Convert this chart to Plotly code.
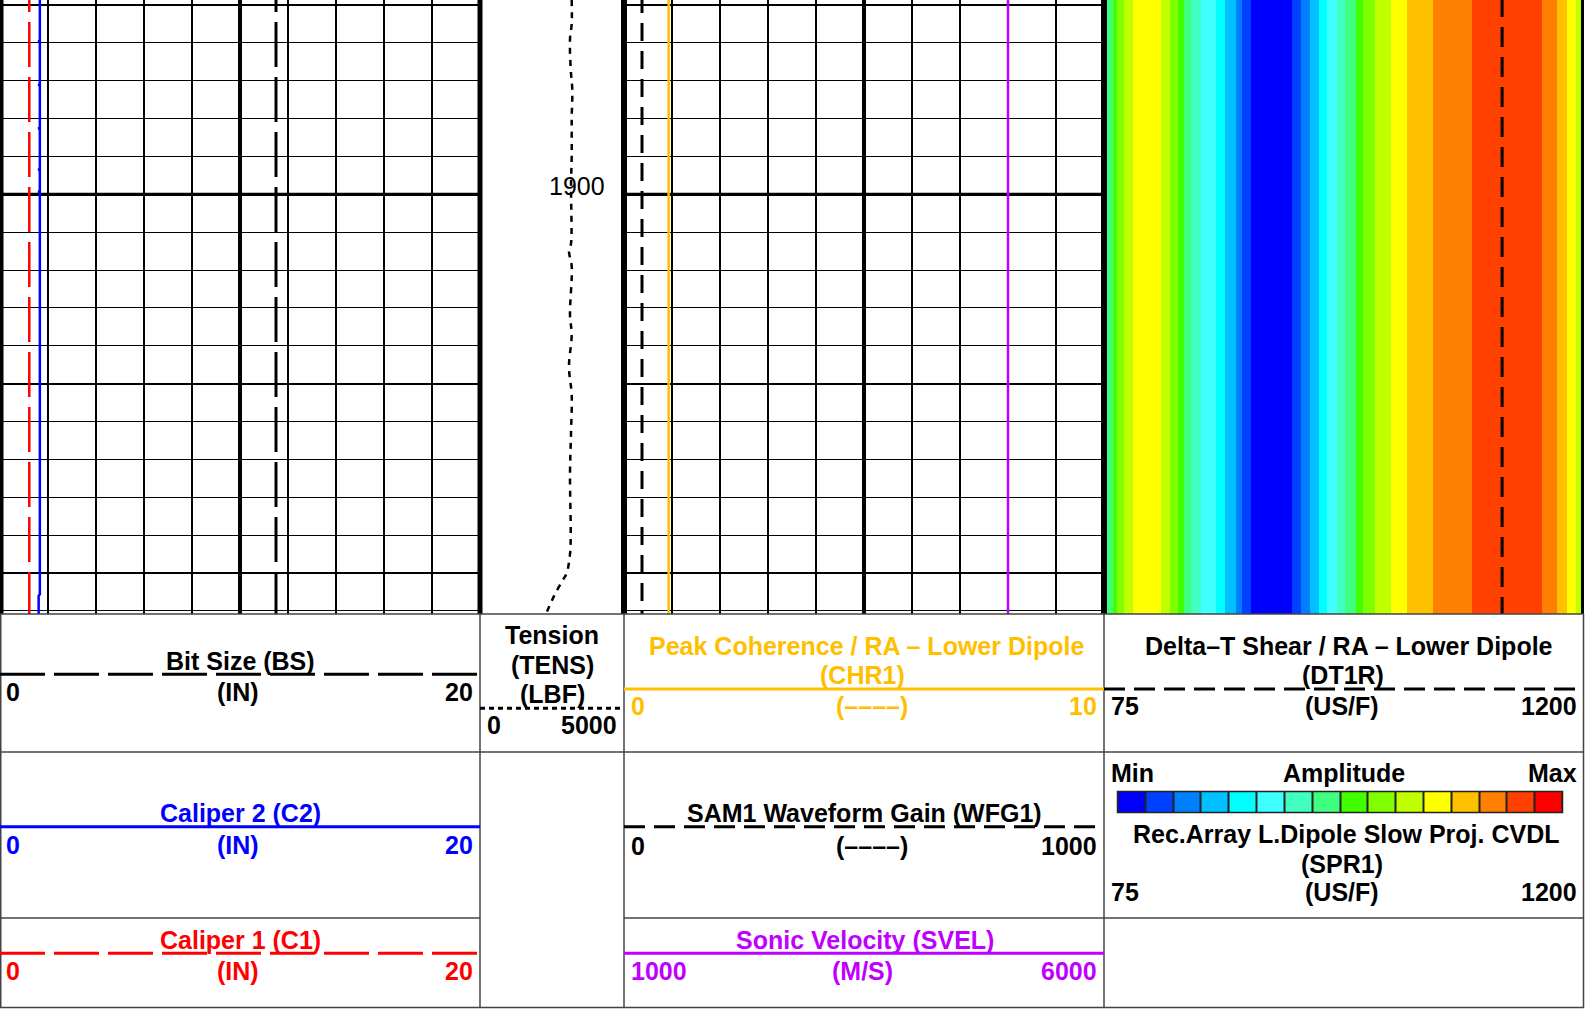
import plotly.graph_objects as go

W, H = 1596, 1009

# ---------------- depth window ----------------
DEPTH_TOP = 1894.87
DEPTH_BOTTOM = 1911.08

# ---------------- track 1 curves (IN, 0-20) ----------------
bs_depth = [1894.0, 1912.0]
bs_value = [11.5, 11.5]

c1_depth = [1894.0, 1912.0]
c1_value = [1.22, 1.22]

c2_depth = [1894.0, 1895.94, 1895.96, 1895.98, 1897.09, 1897.11, 1897.13,
            1898.24, 1898.26, 1898.28, 1899.33, 1899.35, 1899.37,
            1899.91, 1899.93, 1899.95, 1910.56, 1910.60, 1912.0]
c2_value = [1.66, 1.66, 1.60, 1.66, 1.66, 1.60, 1.66,
            1.66, 1.60, 1.66, 1.66, 1.60, 1.66,
            1.66, 1.60, 1.66, 1.66, 1.61, 1.61]

# ---------------- depth track: tension (LBF, 0-5000) ----------------
tens_depth = [1894.87, 1895.5, 1895.9, 1896.7, 1897.25, 1898.0, 1899.0, 1899.75,
              1901.3, 1901.5, 1901.9, 1903.2, 1903.7, 1904.55, 1905.3, 1906.3,
              1907.4, 1909.0, 1909.5, 1910.0, 1910.2, 1910.5, 1910.75, 1911.08]
tens_value = [3184, 3184, 3125, 3150, 3205, 3184, 3184, 3160,
              3160, 3090, 3184, 3125, 3184, 3090, 3184, 3160,
              3125, 3150, 3125, 3010, 2865, 2640, 2480, 2290]

# ---------------- track 3 curves ----------------
chr1_depth = [1894.0, 1912.0]
chr1_value = [0.93, 0.93]          # 0-10

wfg1_depth = [1894.0, 1912.0]
wfg1_value = [37.5, 37.5]          # 0-1000

svel_depth = [1894.0, 1912.0]
svel_value = [5000, 5000]          # 1000-6000 M/S

# ---------------- track 4: DT1R and SPR1 projection ----------------
dt1r_depth = [1894.0, 1912.0]
dt1r_value = [1010, 1010]          # 75-1200 US/F

spr1_edges = [75, 96, 106, 122, 143, 208, 229, 249, 263, 280, 303.5, 339, 360,
              384, 400, 419.5, 517, 538, 559.5, 580, 599.5, 621.5, 641, 666, 684,
              711.5, 749, 786, 847, 939, 1104, 1140, 1162, 1183.5, 1200]
spr1_amp = [7, 8, 9, 10, 11, 10, 9, 8, 7, 6, 5, 4, 3, 2, 1, 0, 1, 2, 3, 4, 5, 6,
            7, 8, 9, 10, 11, 12, 13, 14, 13, 12, 11, 10]

amp_levels = list(range(16))
amp_colors = ["#0000FF", "#0040FF", "#0080FF", "#00C0FF", "#00FFFF", "#40FFFF",
              "#40FFC0", "#40FF80", "#40FF00", "#80FF00", "#C0FF00", "#FFFF00",
              "#FFC000", "#FF8000", "#FF4000", "#FF0000"]

ORANGE = "#FFBF00"
PURPLE = "#BF00FF"
FONT = "Liberation Sans, Arial, Helvetica, sans-serif"


def px(x):
    return x / W


def py(y):
    return 1 - y / H


# stepped colour scale for the 16 amplitude classes
n = len(amp_colors)
amp_scale = []
for i, c in enumerate(amp_colors):
    amp_scale.append([i / n, c])
    amp_scale.append([(i + 1) / n, c])

fig = go.Figure()

# track 1
fig.add_trace(go.Scatter(x=bs_value, y=bs_depth, mode="lines", xaxis="x", yaxis="y",
                         line=dict(color="black", width=3, dash="45px,10px"), hoverinfo="skip"))
fig.add_trace(go.Scatter(x=c1_value, y=c1_depth, mode="lines", xaxis="x", yaxis="y",
                         line=dict(color="#FF0000", width=2.5, dash="45px,10px"), hoverinfo="skip"))
fig.add_trace(go.Scatter(x=c2_value, y=c2_depth, mode="lines", xaxis="x", yaxis="y",
                         line=dict(color="#0000FF", width=2.5), hoverinfo="skip"))

# depth track
fig.add_trace(go.Scatter(x=tens_value, y=tens_depth, mode="lines", xaxis="x2", yaxis="y2",
                         line=dict(color="black", width=2.5, dash="6px,6px", shape="spline"),
                         hoverinfo="skip"))

# track 3
fig.add_trace(go.Scatter(x=wfg1_value, y=wfg1_depth, mode="lines", xaxis="x5", yaxis="y3",
                         line=dict(color="black", width=3, dash="18px,10px"), hoverinfo="skip"))
fig.add_trace(go.Scatter(x=chr1_value, y=chr1_depth, mode="lines", xaxis="x3", yaxis="y3",
                         line=dict(color=ORANGE, width=2.5), hoverinfo="skip"))
fig.add_trace(go.Scatter(x=svel_value, y=svel_depth, mode="lines", xaxis="x6", yaxis="y3",
                         line=dict(color=PURPLE, width=2.5), hoverinfo="skip"))

# track 4
fig.add_trace(go.Heatmap(x=spr1_edges, y=[DEPTH_TOP - 1, DEPTH_BOTTOM + 1], z=[spr1_amp],
                         xaxis="x4", yaxis="y4", colorscale=amp_scale, zmin=-0.5, zmax=15.5,
                         showscale=False, hoverinfo="skip"))
fig.add_trace(go.Scatter(x=dt1r_value, y=dt1r_depth, mode="lines", xaxis="x4", yaxis="y4",
                         line=dict(color="black", width=3, dash="20px,10px"), hoverinfo="skip"))

# amplitude key in the header
fig.add_trace(go.Heatmap(x=amp_levels, y=[0], z=[amp_levels], xaxis="x7", yaxis="y7",
                         colorscale=amp_scale, zmin=-0.5, zmax=15.5, xgap=2,
                         showscale=False, hoverinfo="skip"))

ydom = [py(614), 1]
hidden = dict(showticklabels=False, ticks="", zeroline=False, showline=False)

depth_grid = dict(range=[DEPTH_BOTTOM, DEPTH_TOP], tick0=1895, dtick=5, showgrid=True,
                  gridcolor="black", gridwidth=2,
                  minor=dict(tick0=1895, dtick=1, showgrid=True, gridcolor="black", gridwidth=1.3),
                  **hidden)
depth_plain = dict(range=[DEPTH_BOTTOM, DEPTH_TOP], showgrid=False, **hidden)

fig.update_layout(
    width=W, height=H, margin=dict(l=0, r=0, t=0, b=0),
    paper_bgcolor="white", plot_bgcolor="white", showlegend=False,
    font=dict(family=FONT),
    xaxis=dict(domain=[0, px(480)], range=[0, 20], tick0=0, dtick=2, showgrid=True,
               gridcolor="black", gridwidth=2, anchor="y", **hidden),
    yaxis=dict(domain=ydom, anchor="x", **depth_grid),
    xaxis2=dict(domain=[px(480), px(624)], range=[0, 5000], showgrid=False, anchor="y2", **hidden),
    yaxis2=dict(domain=ydom, anchor="x2", **depth_plain),
    xaxis3=dict(domain=[px(624), px(1104)], range=[0, 10], tick0=0, dtick=1, showgrid=True,
                gridcolor="black", gridwidth=2, anchor="y3", **hidden),
    yaxis3=dict(domain=ydom, anchor="x3", **depth_grid),
    xaxis5=dict(domain=[px(624), px(1104)], range=[0, 1000], overlaying="x3", anchor="y3",
                showgrid=False, **hidden),
    xaxis6=dict(domain=[px(624), px(1104)], range=[1000, 6000], overlaying="x3", anchor="y3",
                showgrid=False, **hidden),
    xaxis4=dict(domain=[px(1104), px(1583)], range=[75, 1200], showgrid=False, anchor="y4", **hidden),
    yaxis4=dict(domain=ydom, anchor="x4", **depth_plain),
    xaxis7=dict(domain=[px(1117.5), px(1562.5)], range=[-0.5, 15.5], showgrid=False, anchor="y7",
                **hidden),
    yaxis7=dict(domain=[py(812.5), py(791.5)], range=[-0.5, 0.5], showgrid=False, anchor="x7",
                **hidden),
)

shapes = []


def pline(x0, y0, x1, y1, color="black", width=1.5, dash="solid"):
    shapes.append(dict(type="line", xref="paper", yref="paper",
                       x0=px(x0), y0=py(y0), x1=px(x1), y1=py(y1), layer="above",
                       line=dict(color=color, width=width, dash=dash)))


# heavier depth lines every ten units
for xr, yr in (("x", "y"), ("x3", "y3")):
    xmax = 20 if xr == "x" else 10
    shapes.append(dict(type="line", xref=xr, yref=yr, x0=0, x1=xmax, y0=1900, y1=1900,
                       layer="below", line=dict(color="black", width=3.2)))

# track centre lines
shapes.append(dict(type="line", xref="x", yref="y", x0=10, x1=10, y0=DEPTH_TOP, y1=DEPTH_BOTTOM,
                   layer="below", line=dict(color="black", width=4)))
shapes.append(dict(type="line", xref="x3", yref="y3", x0=5, x1=5, y0=DEPTH_TOP, y1=DEPTH_BOTTOM,
                   layer="below", line=dict(color="black", width=4)))

# track borders
pline(1.5, 0, 1.5, 614, width=4)
pline(480, 0, 480, 614, width=5)
pline(624, 0, 624, 614, width=6)
pline(1104, 0, 1104, 614, width=6)
pline(1582.5, 0, 1582.5, 614, width=3)

# header frame
HC = "#444444"
pline(0, 614, 1584, 614, color=HC)
pline(0, 752, 1584, 752, color=HC)
pline(0, 918, 480, 918, color=HC)
pline(624, 918, 1584, 918, color=HC)
pline(0, 1007.5, 1584, 1007.5, color=HC)
for xv in (0.75, 480, 624, 1104, 1583.5):
    pline(xv, 614, xv, 1008, color=HC)

# curve keys in the header
pline(0, 674.3, 480, 674.3, width=3, dash="45px,9px")
pline(480, 708.3, 624, 708.3, width=3, dash="5px,4px")
pline(0, 826.7, 480, 826.7, color="#0000FF", width=3)
pline(0, 953.3, 480, 953.3, color="#FF0000", width=3, dash="45px,9px")
pline(624, 689, 1104, 689, color=ORANGE, width=3)
pline(624, 826.7, 1104, 826.7, width=3, dash="21px,9px")
pline(624, 953.3, 1104, 953.3, color=PURPLE, width=3)
pline(1104, 689, 1584, 689, width=3, dash="21px,9px")

# amplitude key frame
shapes.append(dict(type="rect", xref="paper", yref="paper",
                   x0=px(1117.5), x1=px(1562.5), y0=py(812.5), y1=py(791.5),
                   layer="below", fillcolor="#222222", line=dict(width=0)))
shapes.append(dict(type="rect", xref="paper", yref="paper",
                   x0=px(1117.5), x1=px(1562.5), y0=py(812.5), y1=py(791.5),
                   layer="above", fillcolor="rgba(0,0,0,0)", line=dict(color="#222222", width=1.5)))

fig.update_layout(shapes=shapes)

annotations = []


def label(text, x, y, color="black", anchor="center", size=25, bold=True):
    annotations.append(dict(text=text, x=px(x), y=py(y), xref="paper", yref="paper",
                            xanchor=anchor, yanchor="middle", showarrow=False,
                            font=dict(family=FONT, size=size, color=color,
                                      weight="bold" if bold else "normal")))


# depth label
label("1900", 607, 186, size=25, bold=False, anchor="right")

# track 1 header
label("Bit Size (BS)", 240, 660.5)
label("0", 4, 691.7, anchor="left")
label("(IN)", 238, 691.7)
label("20", 475, 691.7, anchor="right")

label("Caliper 2 (C2)", 240, 812.5, color="#0000FF")
label("0", 4, 845, color="#0000FF", anchor="left")
label("(IN)", 238, 845, color="#0000FF")
label("20", 475, 845, color="#0000FF", anchor="right")

label("Caliper 1 (C1)", 240, 940, color="#FF0000")
label("0", 4, 971, color="#FF0000", anchor="left")
label("(IN)", 238, 971, color="#FF0000")
label("20", 475, 971, color="#FF0000", anchor="right")

# depth track header
label("Tension", 552, 635)
label("(TENS)", 552, 665)
label("(LBF)", 552, 694)
label("0", 485, 725, anchor="left")
label("5000", 619, 725, anchor="right")

# track 3 header
label("Peak Coherence / RA \u2013 Lower Dipole", 866, 646, color=ORANGE)
label("(CHR1)", 862, 675, color=ORANGE)
label("0", 629, 706, color=ORANGE, anchor="left")
label("(\u2013\u2013\u2013\u2013)", 872, 706, color=ORANGE)
label("10", 1099, 706, color=ORANGE, anchor="right")

label("SAM1 Waveform Gain (WFG1)", 864, 812.5)
label("0", 629, 846, anchor="left")
label("(\u2013\u2013\u2013\u2013)", 872, 846)
label("1000", 1099, 846, anchor="right")

label("Sonic Velocity (SVEL)", 865, 940, color=PURPLE)
label("1000", 629, 971, color=PURPLE, anchor="left")
label("(M/S)", 862, 971, color=PURPLE)
label("6000", 1099, 971, color=PURPLE, anchor="right")

# track 4 header
label("Delta\u2013T Shear / RA \u2013 Lower Dipole", 1349, 646)
label("(DT1R)", 1343, 675)
label("75", 1109, 706, anchor="left")
label("(US/F)", 1342, 706)
label("1200", 1579, 706, anchor="right")

label("Min", 1109, 773, anchor="left")
label("Amplitude", 1344, 773)
label("Max", 1579, 773, anchor="right")

label("Rec.Array L.Dipole Slow Proj. CVDL", 1346, 834)
label("(SPR1)", 1342, 863.5)
label("75", 1109, 892, anchor="left")
label("(US/F)", 1342, 892)
label("1200", 1579, 892, anchor="right")

fig.update_layout(annotations=annotations)

fig.write_html("out.html")
